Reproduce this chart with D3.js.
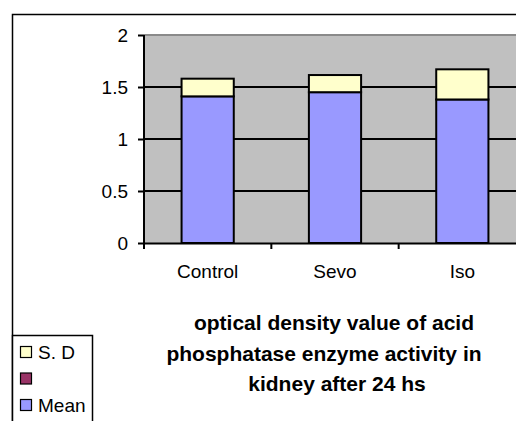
<!DOCTYPE html>
<html>
<head>
<meta charset="utf-8">
<script src="https://cdn.jsdelivr.net/npm/d3@7"></script>
<style>
  body { margin: 0; background: #fff; }
  svg { display: block; font-family: "Liberation Sans", Arial, sans-serif; }
</style>
</head>
<body>
<div class="chart"></div>
<script>
  // data
  var categories = ["Control", "Sevo", "Iso"];
  var meanValues = [1.41, 1.45, 1.38];
  var hiddenValues = [0, 0, 0];
  var sdValues = [0.17, 0.165, 0.29];
  var yTicks = [0, 0.5, 1, 1.5, 2];
  var seriesNames = ["Mean", "", "S. D"];
  var seriesColors = ["#9999FF", "#993366", "#FFFFCC"];
  var titleLines = ["optical density value of acid", "phosphatase enzyme activity in", "kidney after 24 hs"];

  var width = 516, height = 421;

  var plot = { left: 144, top: 35, right: 526, bottom: 243 };

  var svg = d3.select(".chart").append("svg")
              .attr("width", width)
              .attr("height", height);

  // outer chart frame
  svg.append("rect")
     .attr("x", 12.5).attr("y", 14.5)
     .attr("width", 600).attr("height", 600)
     .attr("fill", "#fff")
     .attr("stroke", "#000")
     .attr("stroke-width", 1.5);

  var x = d3.scaleBand()
            .domain(categories)
            .range([plot.left, plot.right]);

  var y = d3.scaleLinear()
            .domain([0, 2])
            .range([plot.bottom, plot.top]);

  // plot area
  svg.append("rect")
     .attr("x", plot.left).attr("y", plot.top)
     .attr("width", plot.right - plot.left)
     .attr("height", plot.bottom - plot.top)
     .attr("fill", "#C0C0C0");

  svg.append("line")
     .attr("x1", plot.left).attr("x2", plot.right)
     .attr("y1", y(2)).attr("y2", y(2))
     .attr("stroke", "#8a8a8a")
     .attr("stroke-width", 2);

  // gridlines
  svg.selectAll(".grid")
     .data(yTicks.filter(function(d) { return d > 0 && d < 2; }))
     .enter().append("line")
     .attr("class", "grid")
     .attr("x1", plot.left).attr("x2", plot.right)
     .attr("y1", function(d) { return y(d); })
     .attr("y2", function(d) { return y(d); })
     .attr("stroke", "#000")
     .attr("stroke-width", 2);

  // stacked bars
  var rows = categories.map(function(c, i) {
    return { cat: c, s0: meanValues[i], s1: hiddenValues[i], s2: sdValues[i] };
  });
  var stack = d3.stack().keys(["s0", "s1", "s2"]);
  var layers = stack(rows);
  var barW = x.bandwidth() * 0.41;

  svg.selectAll(".layer")
     .data(layers)
     .enter().append("g")
     .attr("class", "layer")
     .attr("fill", function(d, i) { return seriesColors[i]; })
     .selectAll("rect")
     .data(function(d) { return d.filter(function(p) { return p[1] > p[0]; }); })
     .enter().append("rect")
     .attr("x", function(d) { return x(d.data.cat) + x.bandwidth() / 2 - barW / 2; })
     .attr("y", function(d) { return y(d[1]); })
     .attr("width", barW)
     .attr("height", function(d) { return y(d[0]) - y(d[1]); })
     .attr("stroke", "#000")
     .attr("stroke-width", 2);

  // y axis
  var yAxis = d3.axisLeft(y)
                .tickValues(yTicks)
                .tickFormat(d3.format("~g"))
                .tickSize(6)
                .tickPadding(10);

  var gy = svg.append("g")
              .attr("transform", "translate(" + plot.left + ",0)")
              .call(yAxis);
  gy.select(".domain").attr("stroke", "#000").attr("stroke-width", 2)
    .attr("d", "M0," + plot.top + "V" + plot.bottom);
  gy.selectAll(".tick line").attr("stroke", "#000").attr("stroke-width", 2);
  gy.selectAll(".tick text")
    .attr("fill", "#000")
    .style("font-size", "19px")
    .attr("dy", "0.36em");

  // x axis with ticks between categories
  var xAxis = d3.axisBottom(x).tickSize(0).tickPadding(22);
  var gx = svg.append("g")
              .attr("transform", "translate(0," + plot.bottom + ")")
              .call(xAxis);
  gx.select(".domain").attr("stroke", "#000").attr("stroke-width", 2);
  gx.selectAll(".tick text")
    .attr("fill", "#000")
    .style("font-size", "19px");

  gx.selectAll(".sep")
    .data(categories)
    .enter().append("line")
    .attr("class", "sep")
    .attr("x1", function(d) { return x(d); })
    .attr("x2", function(d) { return x(d); })
    .attr("y1", 0).attr("y2", 6)
    .attr("stroke", "#000")
    .attr("stroke-width", 2);

  // title
  var titleX = [334, 324, 337];
  svg.append("text")
     .attr("font-weight", "bold")
     .style("font-size", "21px")
     .attr("fill", "#000")
     .selectAll("tspan")
     .data(titleLines)
     .enter().append("tspan")
     .attr("x", function(d, i) { return titleX[i]; })
     .attr("y", function(d, i) { return 330 + i * 30.5; })
     .attr("text-anchor", "middle")
     .text(function(d) { return d; });

  // legend
  var legend = svg.append("g").attr("transform", "translate(12,335)");
  legend.append("rect")
        .attr("x", 0.5).attr("y", 0.5)
        .attr("width", 80).attr("height", 120)
        .attr("fill", "#fff")
        .attr("stroke", "#000")
        .attr("stroke-width", 1.5);

  var legendOrder = [2, 1, 0];
  var item = legend.selectAll(".item")
                   .data(legendOrder)
                   .enter().append("g")
                   .attr("class", "item")
                   .attr("transform", function(d, i) { return "translate(8," + (17 + i * 26.5) + ")"; });
  item.append("rect")
      .attr("x", 0.5).attr("y", -5.5)
      .attr("width", 11).attr("height", 11)
      .attr("fill", function(d) { return seriesColors[d]; })
      .attr("stroke", "#000")
      .attr("stroke-width", 1.2);
  item.append("text")
      .attr("x", 18)
      .attr("dy", "0.36em")
      .style("font-size", "19px")
      .attr("fill", "#000")
      .text(function(d) { return seriesNames[d]; });
</script>
</body>
</html>
